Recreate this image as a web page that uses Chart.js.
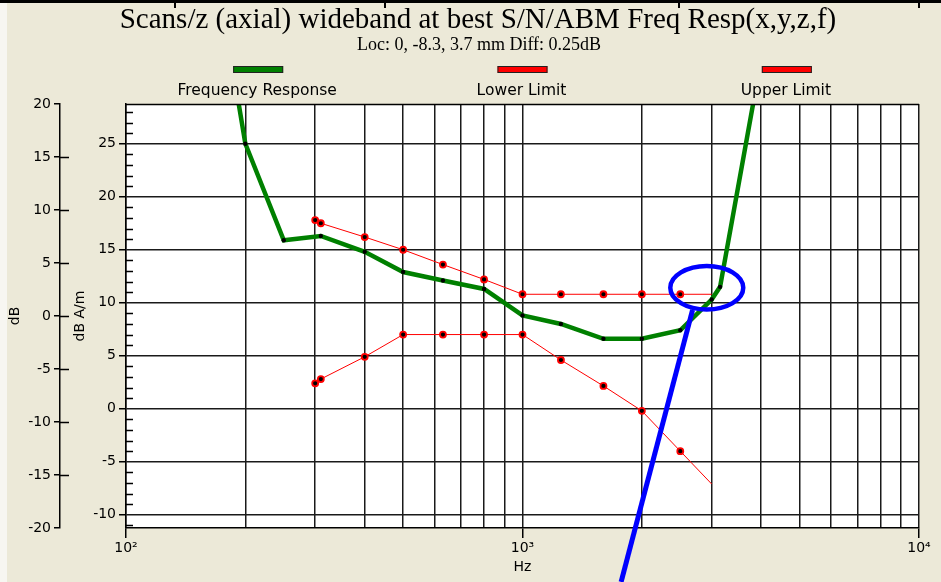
<!DOCTYPE html>
<html>
<head>
<meta charset="utf-8">
<script src="https://cdn.jsdelivr.net/npm/chart.js@4"></script>
<style>
  html, body { margin: 0; padding: 0; background: #ece9d8; }
  #wrap { position: relative; width: 941px; height: 582px; }
</style>
</head>
<body>
<div id="wrap"><canvas id="chart" width="941" height="582"></canvas></div>
<script>
// Measured response (Hz / dB A/m)
const respFreq = [190, 200, 250, 310, 400, 500, 630, 800, 1000, 1250, 1600, 2000, 2500, 3000, 3150, 4000];
const respDb = [30, 25.0, 15.9, 16.3, 14.8, 12.9, 12.1, 11.3, 8.8, 8.0, 6.6, 6.6, 7.4, 10.3, 11.5, 33];

// Limit masks
const limitFreq = [300, 310, 400, 500, 630, 800, 1000, 1250, 1600, 2000, 2500, 3000];
const lowerDb = [2.4, 2.8, 4.9, 7.0, 7.0, 7.0, 7.0, 4.6, 2.15, -0.2, -4.0, -7.1];
const upperDb = [17.8, 17.5, 16.2, 15.0, 13.6, 12.2, 10.8, 10.8, 10.8, 10.8, 10.8, 10.8];

// Ticks
const xTicks = [100, 200, 300, 400, 500, 600, 700, 800, 900, 1000, 2000, 3000, 4000, 5000, 6000, 7000, 8000, 9000, 10000];
const xLabels = { 100: '10²', 1000: '10³', 10000: '10⁴' };
const yTicks = [-10, -5, 0, 5, 10, 15, 20, 25];
const yMinor = [-11, -9, -8, -7, -6, -4, -3, -2, -1, 1, 2, 3, 4, 6, 7, 8, 9, 11, 12, 13, 14, 16, 17, 18, 19, 21, 22, 23, 24, 26, 27, 28];
const dbTicks = [-20, -15, -10, -5, 0, 5, 10, 15, 20];

// Callout (freq / dB A/m)
const ringFreq = [2359, 3604];
const ringDb = [9.36, 13.47];
const pointerFreq = [2685, 1773];
const pointerDb = [9.32, -16.34];

const tickFont = { family: 'DejaVu Sans', size: 14 };
const pts = (xs, ys) => xs.map((x, i) => ({ x: x, y: ys[i] }));

const framePlugin = {
  id: 'frame',
  beforeDraw(chart) {
    const { ctx, chartArea: a } = chart;
    ctx.save();
    ctx.fillStyle = '#ece9d8';
    ctx.fillRect(0, 0, chart.width, chart.height);
    ctx.fillStyle = '#f7f6f1';
    ctx.fillRect(0, 0, 7, chart.height);
    ctx.fillStyle = '#ffffff';
    ctx.fillRect(a.left, a.top, a.right - a.left, a.bottom - a.top);
    // top strip
    ctx.fillStyle = '#000';
    ctx.fillRect(0, 0, chart.width, 3);
    [174, 384, 678, 918].forEach(x => ctx.fillRect(x, 0, 2, 8));
    ctx.restore();
  },
  afterDraw(chart) {
    const { ctx, chartArea: a, scales } = chart;
    ctx.save();
    ctx.strokeStyle = '#000';
    ctx.lineWidth = 1.5;
    // top border
    ctx.beginPath();
    ctx.moveTo(a.left, a.top + 0.5);
    ctx.lineTo(a.right, a.top + 0.5);
    ctx.stroke();
    // stubs right of the dB axis
    const yDb = scales.yDb;
    ctx.beginPath();
    dbTicks.slice(1, -1).forEach(v => {
      const y = Math.round(yDb.getPixelForValue(v)) + 0.5;
      ctx.moveTo(yDb.right, y);
      ctx.lineTo(yDb.right + 9, y);
    });
    // minor ticks on the dB A/m axis
    const y = scales.y;
    yMinor.forEach(v => {
      const py = Math.round(y.getPixelForValue(v)) + 0.5;
      ctx.moveTo(a.left, py);
      ctx.lineTo(a.left + 7, py);
    });
    ctx.stroke();

    // titles
    ctx.fillStyle = '#000';
    ctx.textAlign = 'center';
    ctx.textBaseline = 'alphabetic';
    ctx.font = '29px "Liberation Serif"';
    ctx.fillText('Scans/z (axial) wideband at best S/N/ABM Freq Resp(x,y,z,f)', 478, 28);
    ctx.font = '18px "Liberation Serif"';
    ctx.fillText('Loc: 0, -8.3, 3.7 mm Diff: 0.25dB', 479, 50);

    // legend: bar above label
    const w = a.right - a.left;
    chart.data.datasets.forEach((ds, i) => {
      const cx = a.left + w * (2 * i + 1) / 6;
      ctx.fillStyle = ds.borderColor;
      ctx.fillRect(cx - 25, 66, 50, 7);
      ctx.lineWidth = 1;
      ctx.strokeStyle = '#222';
      ctx.strokeRect(cx - 25 + 0.5, 66 + 0.5, 49, 6);
      ctx.fillStyle = '#000';
      ctx.font = '15.5px "DejaVu Sans"';
      ctx.fillText(ds.label, cx - 1, 95);
    });

    // blue callout
    const x = scales.x;
    const x0 = x.getPixelForValue(ringFreq[0]), x1 = x.getPixelForValue(ringFreq[1]);
    const y0 = y.getPixelForValue(ringDb[1]), y1 = y.getPixelForValue(ringDb[0]);
    ctx.strokeStyle = '#0000ff';
    ctx.lineWidth = 4.5;
    ctx.beginPath();
    ctx.ellipse((x0 + x1) / 2, (y0 + y1) / 2, (x1 - x0) / 2, (y1 - y0) / 2, 0, 0, Math.PI * 2);
    ctx.stroke();
    ctx.lineWidth = 5;
    ctx.beginPath();
    ctx.moveTo(x.getPixelForValue(pointerFreq[0]), y.getPixelForValue(pointerDb[0]));
    ctx.lineTo(x.getPixelForValue(pointerFreq[1]), y.getPixelForValue(pointerDb[1]));
    ctx.stroke();
    ctx.restore();
  }
};

new Chart(document.getElementById('chart'), {
  type: 'line',
  data: {
    datasets: [{
      label: 'Frequency Response',
      data: pts(respFreq, respDb),
      borderColor: '#008000',
      borderWidth: 4.5,
      pointRadius: 2.2,
      pointBackgroundColor: '#000',
      pointBorderWidth: 0,
      clip: 0,
      yAxisID: 'y'
    }, {
      label: 'Lower Limit',
      data: pts(limitFreq, lowerDb),
      borderColor: '#ff0000',
      borderWidth: 1,
      pointRadius: limitFreq.map((f, i) => i === limitFreq.length - 1 ? 0 : 3),
      pointBackgroundColor: '#000',
      pointBorderColor: '#ff0000',
      pointBorderWidth: 1.8,
      clip: 0,
      yAxisID: 'y'
    }, {
      label: 'Upper Limit',
      data: pts(limitFreq, upperDb),
      borderColor: '#ff0000',
      borderWidth: 1,
      pointRadius: limitFreq.map((f, i) => i === limitFreq.length - 1 ? 0 : 3),
      pointBackgroundColor: '#000',
      pointBorderColor: '#ff0000',
      pointBorderWidth: 1.8,
      clip: 0,
      yAxisID: 'y'
    }]
  },
  options: {
    responsive: false,
    animation: false,
    devicePixelRatio: 1,
    layout: { padding: { top: 104, right: 22, bottom: 0, left: 0 } },
    elements: { line: { tension: 0 } },
    plugins: { legend: { display: false }, tooltip: { enabled: false } },
    scales: {
      x: {
        type: 'logarithmic',
        min: 100,
        max: 10000,
        afterBuildTicks: s => { s.ticks = xTicks.map(v => ({ value: v })); },
        afterFit: s => { s.height = 54; },
        grid: {
          color: '#1a1a1a',
          lineWidth: 1.5,
          tickLength: 10,
          tickColor: c => (xLabels[c.tick && c.tick.value] ? '#000' : 'rgba(0,0,0,0)')
        },
        border: { color: '#000', width: 1.5 },
        ticks: {
          autoSkip: false,
          maxRotation: 0,
          padding: 2,
          color: '#000',
          font: tickFont,
          callback: v => xLabels[v] || ''
        },
        title: { display: true, text: 'Hz', color: '#000', font: tickFont, padding: { top: 0, bottom: 6 } }
      },
      y: {
        position: 'left',
        weight: 0,
        min: -11.25,
        max: 28.75,
        afterBuildTicks: s => { s.ticks = yTicks.map(v => ({ value: v })); },
        afterFit: s => { s.width = 66; },
        grid: { color: '#1a1a1a', lineWidth: 1.5, tickLength: 7, tickColor: '#000' },
        border: { color: '#000', width: 1.5 },
        ticks: { padding: 3, color: '#000', font: tickFont },
        title: { display: true, text: 'dB A/m', color: '#000', font: tickFont, padding: { top: 12, bottom: 0 } }
      },
      yDb: {
        position: 'left',
        weight: 10,
        min: -20,
        max: 20,
        afterBuildTicks: s => { s.ticks = dbTicks.map(v => ({ value: v })); },
        afterFit: s => { s.width = 60; },
        grid: { drawOnChartArea: false, tickLength: 6, tickColor: '#000', lineWidth: 1.5 },
        border: { color: '#000', width: 1.5 },
        ticks: { padding: 3, color: '#000', font: tickFont },
        title: { display: true, text: 'dB', color: '#000', font: tickFont, padding: { top: 7, bottom: 0 } }
      }
    }
  },
  plugins: [framePlugin]
});
</script>
</body>
</html>
